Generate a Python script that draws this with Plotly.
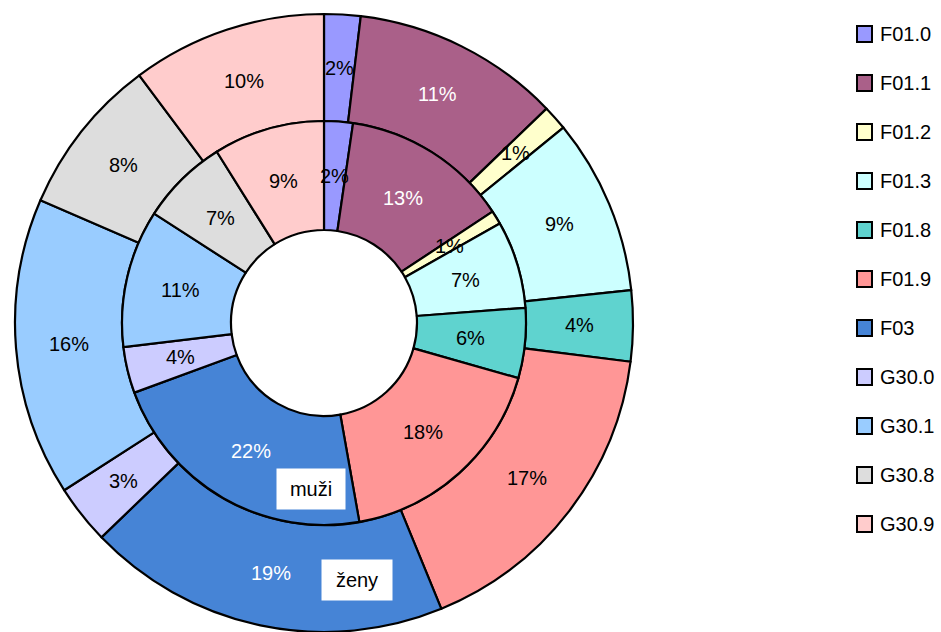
import math
import plotly.graph_objects as go

# ---------------- data ----------------
categories = ["F01.0", "F01.1", "F01.2", "F01.3", "F01.8", "F01.9",
              "F03", "G30.0", "G30.1", "G30.8", "G30.9"]
muzi = [2.3, 13.4, 1.1, 7.0, 5.6, 17.8, 22.2, 3.7, 11.0, 7.0, 8.9]    # inner ring
zeny = [1.9, 10.9, 1.3, 9.2, 3.7, 16.8, 19.0, 3.1, 15.6, 8.3, 10.2]   # outer ring
ring_names = ["muži", "ženy"]

# ---------------- styles ----------------
colors = ["#9999FF", "#AA6089", "#FFFFCC", "#CCFFFF", "#5FD3CF", "#FF9696",
          "#4684D6", "#CCCCFF", "#99CCFF", "#DDDDDD", "#FFCCCC"]
text_colors = ["black", "white", "black", "black", "black", "black",
               "white", "black", "black", "black", "black"]
FONT = "Liberation Sans, Arial, sans-serif"
FS = 20

W, H = 941, 632
cx, cy = 324, 323          # pie centre (px from left / top)
R_out, R_mid, R_hole = 309, 202, 93


def px_dom(r):
    return dict(x=[(cx - r) / W, (cx + r) / W],
                y=[1 - (cy + r) / H, 1 - (cy - r) / H])


fig = go.Figure()
fig.add_trace(go.Pie(
    labels=categories, values=zeny, name=ring_names[1], sort=False,
    direction="clockwise", rotation=0, hole=R_mid / R_out,
    domain=px_dom(R_out), textinfo="none", hoverinfo="label+percent",
    marker=dict(colors=colors, line=dict(color="black", width=2.2)),
    showlegend=False))
fig.add_trace(go.Pie(
    labels=categories, values=muzi, name=ring_names[0], sort=False,
    direction="clockwise", rotation=0, hole=R_hole / R_mid,
    domain=px_dom(R_mid), textinfo="none", hoverinfo="label+percent",
    marker=dict(colors=colors, line=dict(color="black", width=2.2)),
    showlegend=False))

annotations = []


def ring_labels(values, r_in, r_out):
    total = sum(values)
    cum = 0.0
    rm = (r_in + r_out) / 2
    for v, tc in zip(values, text_colors):
        mid = (cum + v / 2) / total * 2 * math.pi
        cum += v
        x = cx + rm * math.sin(mid)
        y = cy - rm * math.cos(mid)
        annotations.append(dict(
            x=x / W, y=1 - y / H, xref="paper", yref="paper",
            xanchor="center", yanchor="middle",
            text=f"{v / total * 100:.0f}%", showarrow=False,
            font=dict(family=FONT, size=FS, color=tc)))


ring_labels(zeny, R_mid, R_out)
ring_labels(muzi, R_hole, R_mid)

# ring name boxes
annotations.append(dict(x=311 / W, y=1 - 489 / H, xref="paper", yref="paper",
                        xanchor="center", yanchor="middle",
                        text=ring_names[0], showarrow=False, bgcolor="white",
                        width=66, height=38, font=dict(family=FONT, size=FS, color="black")))
annotations.append(dict(x=357 / W, y=1 - 580 / H, xref="paper", yref="paper",
                        xanchor="center", yanchor="middle",
                        text=ring_names[1], showarrow=False, bgcolor="white",
                        width=68, height=38, font=dict(family=FONT, size=FS, color="black")))

# custom legend
shapes = []
for i, (cat, col) in enumerate(zip(categories, colors)):
    yc = 34 + 49 * i
    shapes.append(dict(type="rect", xref="paper", yref="paper",
                       x0=857 / W, x1=872 / W, y0=1 - (yc + 8) / H, y1=1 - (yc - 8) / H,
                       fillcolor=col, line=dict(color="black", width=2)))
    annotations.append(dict(x=878 / W, y=1 - yc / H, xref="paper", yref="paper",
                            xanchor="left", yanchor="middle", text=cat, showarrow=False,
                            font=dict(family=FONT, size=FS, color="black")))

fig.update_layout(width=W, height=H, margin=dict(l=0, r=0, t=0, b=0),
                  paper_bgcolor="white", plot_bgcolor="white",
                  annotations=annotations, shapes=shapes,
                  font=dict(family=FONT))

fig.write_html("out.html", config={"displayModeBar": False},
               post_script="document.body.style.margin='0';document.body.style.overflow='hidden';")
